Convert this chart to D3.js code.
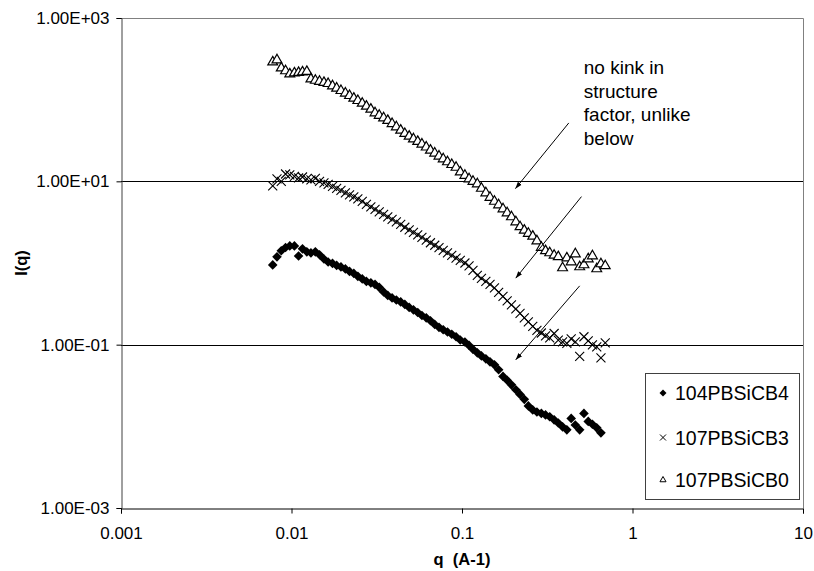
<!DOCTYPE html>
<html>
<head>
<meta charset="utf-8">
<script src="https://cdn.jsdelivr.net/npm/d3@7"></script>
<style>
  body { margin: 0; background: #fff; }
  text { font-family: "Liberation Sans", Arial, sans-serif; }
</style>
</head>
<body>
<script>
// q values (A-1), shared by the three samples
var q = [0.00776, 0.00822, 0.00871, 0.00923, 0.00977, 0.0104, 0.0110, 0.0116, 0.0123, 0.0130,
  0.0138, 0.0146, 0.0155, 0.0164, 0.0174, 0.0184, 0.0195, 0.0207, 0.0219, 0.0232,
  0.0245, 0.0260, 0.0275, 0.0292, 0.0309, 0.0327, 0.0347, 0.0367, 0.0389, 0.0412,
  0.0437, 0.0462, 0.0490, 0.0519, 0.0550, 0.0582, 0.0617, 0.0653, 0.0692, 0.0733,
  0.0776, 0.0822, 0.0871, 0.0923, 0.0977, 0.104, 0.110, 0.116, 0.123, 0.130,
  0.138, 0.146, 0.155, 0.164, 0.174, 0.184, 0.195, 0.207, 0.219, 0.232,
  0.245, 0.260, 0.275, 0.292, 0.309, 0.327, 0.347, 0.367, 0.389, 0.412,
  0.437, 0.462, 0.490, 0.519, 0.550, 0.582, 0.617, 0.653, 0.692];

var i104cb4 = [0.948, 1.19, 1.41, 1.55, 1.62, 1.62, 1.22, 1.49, 1.37, 1.33,
  1.37, 1.26, 1.12, 1.03, 0.989, 0.935, 0.896, 0.847, 0.789, 0.746,
  0.686, 0.639, 0.595, 0.571, 0.547, 0.503, 0.443, 0.401, 0.374, 0.353,
  0.334, 0.311, 0.286, 0.267, 0.248, 0.228, 0.213, 0.196, 0.177, 0.163,
  0.152, 0.143, 0.134, 0.125, 0.114, 0.108, 0.0980, 0.0876, 0.0794, 0.0729,
  0.0670, 0.0616, 0.0566, 0.0492, 0.0409, 0.0366, 0.0322, 0.0280, 0.0246, 0.0214,
  0.0178, 0.0159, 0.0150, 0.0144, 0.0138, 0.0131, 0.0120, 0.0110, 0.00986, 0.00906,
  0.0125, 0.0104, 0.00906, 0.0144, 0.0115, 0.0106, 0.00958, 0.00832, null];

var i107cb3 = [8.78, 10.7, 9.97, 12.3, 12.0, 11.5, 11.0, 11.3, 10.7, 10.4,
  10.9, 9.97, 9.56, 9.16, 8.66, 8.19, 7.74, 7.21, 6.82, 6.44,
  6.09, 5.68, 5.22, 4.86, 4.53, 4.22, 3.93, 3.67, 3.42, 3.18,
  2.97, 2.74, 2.54, 2.37, 2.21, 2.06, 1.90, 1.77, 1.65, 1.54,
  1.43, 1.33, 1.24, 1.15, 1.08, 1.00, 0.922, 0.812, 0.705, 0.648,
  0.595, 0.547, 0.496, 0.437, 0.390, 0.344, 0.307, 0.274, 0.242, 0.213,
  0.190, 0.167, 0.150, 0.139, 0.128, 0.121, 0.137, 0.114, 0.108, 0.104,
  0.118, 0.108, 0.0718, 0.125, 0.111, 0.0994, 0.0940, 0.0689, 0.105];

var i107cb0 = [289, 306, 244, 225, 206, 212, 215, 218, 221, 179,
  172, 167, 162, 157, 147, 138, 129, 120, 112, 104,
  97.2, 90.1, 82.8, 76.1, 68.7, 64.1, 59.7, 55.5, 50.8, 46.3,
  42.1, 38.4, 35.6, 33.0, 30.7, 28.5, 26.2, 24.0, 22.1, 20.3,
  18.8, 17.3, 16.0, 14.8, 13.0, 11.8, 10.7, 9.97, 9.29, 8.19,
  7.21, 6.35, 5.68, 5.14, 4.59, 4.10, 3.67, 3.18, 2.77, 2.51,
  2.30, 2.12, 1.86, 1.55, 1.41, 1.33, 1.24, 1.19, 0.871, 1.15,
  1.03, 1.29, 0.896, 0.948, 1.12, 1.22, 0.847, 0.975, 0.922];

var seriesNames = ["104PBSiCB4", "107PBSiCB3", "107PBSiCB0"];
var xTicks = [0.001, 0.01, 0.1, 1, 10];
var yTicks = [1e-3, 1e-1, 1e1, 1e3];
var gridVals = [1e-1, 1e1];

// annotation: text and arrows in data units
var noteLines = ["no kink in", "structure", "factor, unlike", "below"];
var notePos = [0.518, 206];
var arrows = [
  [0.423, 51.9, 0.2056, 8.14],
  [0.502, 6.50, 0.2066, 0.652],
  [0.490, 0.525, 0.2066, 0.0652]
];

function main() {
  var width = 814, height = 571;
  var left = 121, right = 803, top = 18, bottom = 508;

  var svg = d3.select("body").append("svg")
    .attr("width", width).attr("height", height);

  var x = d3.scaleLog().domain([0.001, 10]).range([left, right]);
  var y = d3.scaleLog().domain([1e-3, 1e3]).range([bottom, top]);

  // tick label like 1.00E+03
  var fmtE = function (v) {
    var e = Math.round(Math.log10(v));
    var m = v / Math.pow(10, e);
    var s = e < 0 ? "-" : "+";
    var a = Math.abs(e);
    return m.toFixed(2) + "E" + s + (a < 10 ? "0" + a : a);
  };

  // grid
  svg.selectAll("line.grid").data(gridVals).enter().append("line")
    .attr("class", "grid")
    .attr("x1", left).attr("x2", right)
    .attr("y1", function (d) { return Math.round(y(d)) + 0.5; })
    .attr("y2", function (d) { return Math.round(y(d)) + 0.5; })
    .attr("stroke", "#000").attr("stroke-width", 1);

  // plot border (top, right)
  svg.append("path")
    .attr("d", "M" + left + "," + (top + 0.5) + "H" + (right + 0.5) + "V" + bottom)
    .attr("fill", "none").attr("stroke", "#808080").attr("stroke-width", 1);

  var yAxis = svg.append("g")
    .attr("transform", "translate(" + (left + 0.5) + ",0)")
    .call(d3.axisLeft(y).tickValues(yTicks).tickFormat(fmtE).tickSize(5).tickPadding(7));
  yAxis.select(".domain").attr("stroke", "#404040");
  yAxis.selectAll("text").attr("font-size", "17px").attr("fill", "#000")
    .attr("font-family", "Liberation Sans, Arial, sans-serif");

  var xAxis = svg.append("g")
    .attr("transform", "translate(0," + (bottom + 0.5) + ")")
    .call(d3.axisBottom(x).tickValues(xTicks).tickFormat(function (d) { return String(d); }).tickSize(5).tickPadding(13));
  xAxis.select(".domain").attr("stroke", "#000");
  xAxis.selectAll("text").attr("font-size", "17px").attr("fill", "#000")
    .attr("font-family", "Liberation Sans, Arial, sans-serif");

  // axis titles
  svg.append("text")
    .attr("transform", "translate(27,263) rotate(-90)")
    .attr("text-anchor", "middle")
    .attr("font-size", "16.5px").attr("font-weight", "bold")
    .text("I(q)");
  svg.append("text")
    .attr("x", 462).attr("y", 565)
    .attr("text-anchor", "middle")
    .attr("font-size", "16.5px").attr("font-weight", "bold")
    .attr("xml:space", "preserve").style("white-space", "pre")
    .text("q  (A-1)");

  // markers
  var diamond = "M0,-4.8L4.8,0L0,4.8L-4.8,0Z";
  var cross = "M-4.5,-4.5L4.5,4.5M-4.5,4.5L4.5,-4.5";
  var tri = d3.symbol().type(d3.symbolTriangle).size(42)();

  var pts = function (arr) {
    var out = [];
    for (var i = 0; i < q.length; i++) {
      if (arr[i] != null) out.push([q[i], arr[i]]);
    }
    return out;
  };

  svg.append("g").selectAll("path").data(pts(i104cb4)).enter().append("path")
    .attr("d", diamond)
    .attr("transform", function (d) { return "translate(" + x(d[0]) + "," + y(d[1]) + ")"; })
    .attr("fill", "#000");

  svg.append("g").selectAll("path").data(pts(i107cb3)).enter().append("path")
    .attr("d", cross)
    .attr("transform", function (d) { return "translate(" + x(d[0]) + "," + y(d[1]) + ")"; })
    .attr("fill", "none").attr("stroke", "#000").attr("stroke-width", 1.1);

  svg.append("g").selectAll("path").data(pts(i107cb0)).enter().append("path")
    .attr("d", tri)
    .attr("transform", function (d) { return "translate(" + x(d[0]) + "," + y(d[1]) + ")"; })
    .attr("fill", "#fff").attr("stroke", "#000").attr("stroke-width", 1.2);

  // annotation
  var defs = svg.append("defs");
  defs.append("marker")
    .attr("id", "ah").attr("viewBox", "0 0 10 10")
    .attr("refX", 10).attr("refY", 5)
    .attr("markerWidth", 7).attr("markerHeight", 7)
    .attr("orient", "auto")
    .append("path").attr("d", "M0,1.5L10,5L0,8.5Z").attr("fill", "#000");

  svg.append("g").selectAll("line").data(arrows).enter().append("line")
    .attr("x1", function (d) { return x(d[0]); })
    .attr("y1", function (d) { return y(d[1]); })
    .attr("x2", function (d) { return x(d[2]); })
    .attr("y2", function (d) { return y(d[3]); })
    .attr("stroke", "#000").attr("stroke-width", 1)
    .attr("marker-end", "url(#ah)");

  svg.append("text")
    .attr("font-size", "19px")
    .selectAll("tspan").data(noteLines).enter().append("tspan")
    .attr("x", x(notePos[0]))
    .attr("y", function (d, i) { return y(notePos[1]) + i * 23.5; })
    .text(function (d) { return d; });

  // legend
  var lg = svg.append("g");
  lg.append("rect")
    .attr("x", 645.5).attr("y", 373.5).attr("width", 154).attr("height", 126)
    .attr("fill", "#fff").attr("stroke", "#404040").attr("stroke-width", 1);
  var legendMarks = [
    { d: "M0,-3.5L3.5,0L0,3.5L-3.5,0Z", fill: "#000", stroke: "none" },
    { d: "M-3,-3L3,3M-3,3L3,-3", fill: "none", stroke: "#000" },
    { d: d3.symbol().type(d3.symbolTriangle).size(16)(), fill: "#fff", stroke: "#000" }
  ];
  var entryY = [393, 437.5, 480];
  seriesNames.forEach(function (name, i) {
    lg.append("path")
      .attr("d", legendMarks[i].d)
      .attr("transform", "translate(663," + entryY[i] + ")")
      .attr("fill", legendMarks[i].fill)
      .attr("stroke", legendMarks[i].stroke).attr("stroke-width", 1);
    lg.append("text")
      .attr("x", 675).attr("y", entryY[i] + 7)
      .attr("font-size", "19.5px")
      .text(name);
  });
}

main();
</script>
</body>
</html>
